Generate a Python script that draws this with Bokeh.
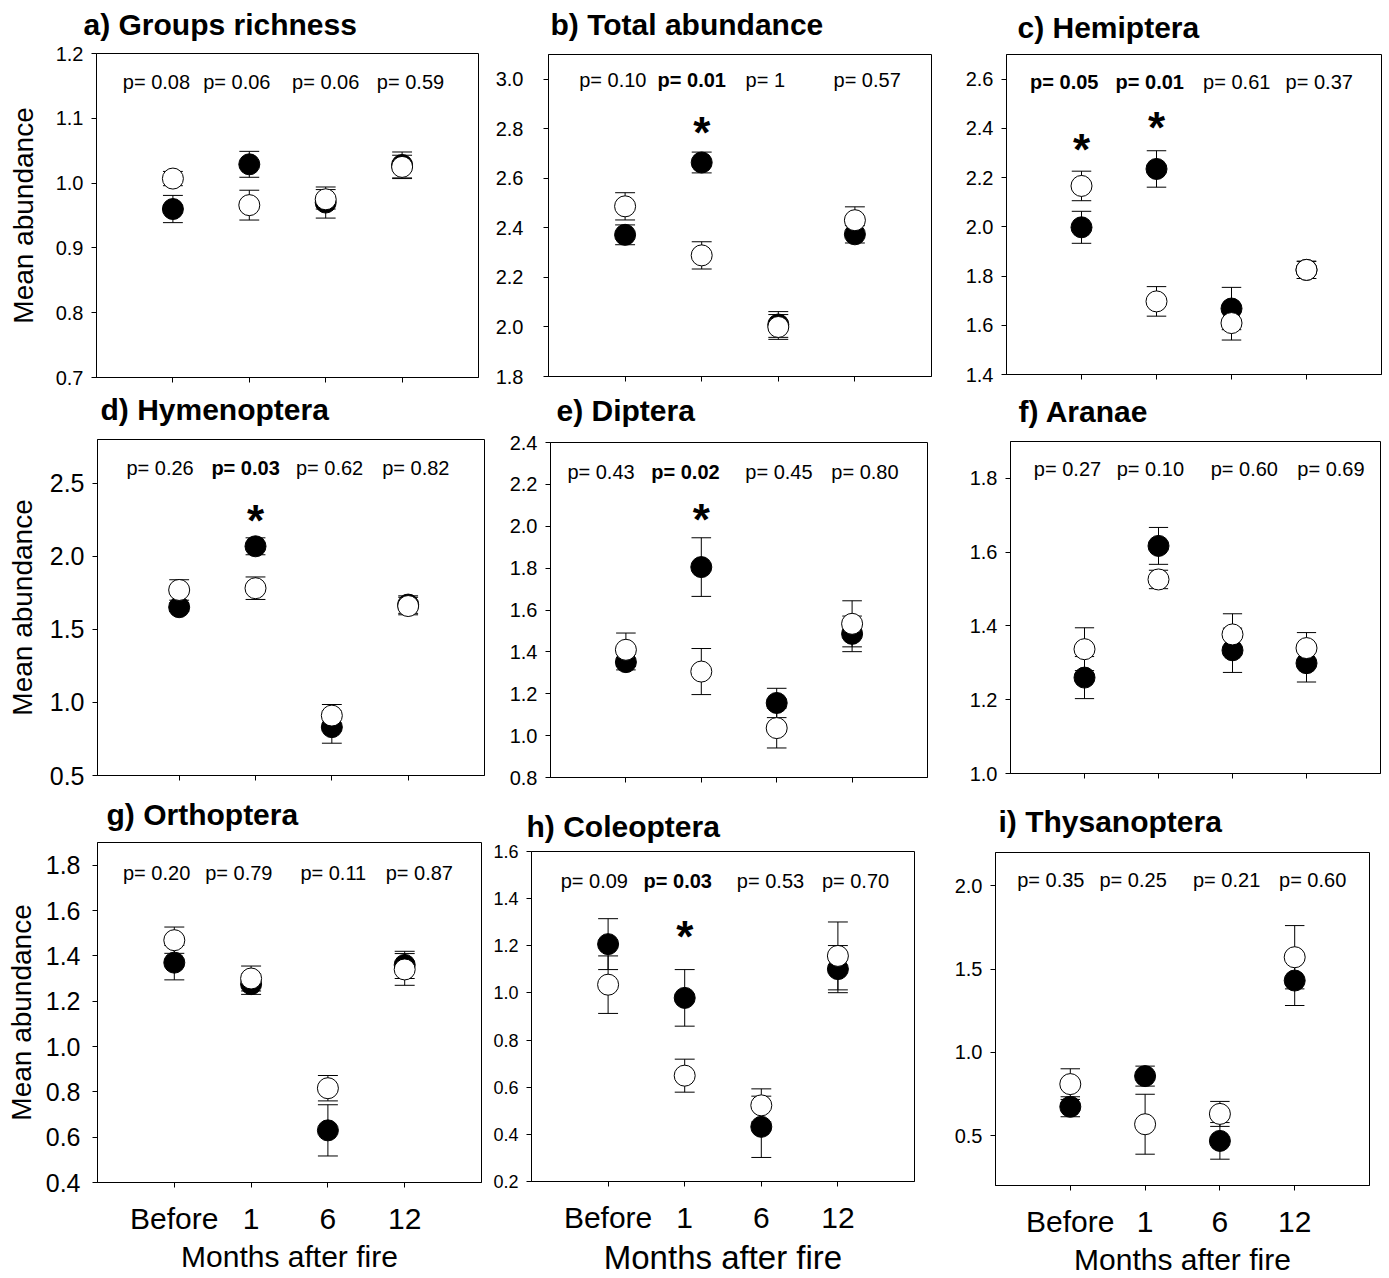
from bokeh.plotting import figure
from bokeh.layouts import row, column
from bokeh.models import FixedTicker, PrintfTickFormatter, Range1d
from bokeh.core.properties import value
from bokeh.embed import file_html
from bokeh.resources import INLINE

FONT = "Liberation Sans"

months = ["Before", "1", "6", "12"]
periods = [1, 2, 3, 4]

# ---- data (mean +/- SE), filled = black circles, open = white circles ----
richness_filled = [0.960, 1.029, 0.970, 1.028]
richness_filled_se = [0.021, 0.020, 0.024, 0.020]
richness_open = [1.007, 0.966, 0.975, 1.025]
richness_open_se = [0.011, 0.023, 0.015, 0.018]
richness_p = ["0.08", "0.06", "0.06", "0.59"]
richness_sig = [False, False, False, False]

total_filled = [2.372, 2.664, 2.010, 2.374]
total_filled_se = [0.040, 0.042, 0.052, 0.035]
total_open = [2.487, 2.289, 2.000, 2.431]
total_open_se = [0.055, 0.055, 0.050, 0.054]
total_p = ["0.10", "0.01", "1", "0.57"]
total_sig = [False, True, False, False]

hemi_filled = [1.998, 2.235, 1.668, 1.825]
hemi_filled_se = [0.065, 0.074, 0.086, 0.035]
hemi_open = [2.166, 1.697, 1.609, 1.825]
hemi_open_se = [0.060, 0.060, 0.069, 0.035]
hemi_p = ["0.05", "0.01", "0.61", "0.37"]
hemi_sig = [True, True, False, False]

hyme_filled = [1.652, 2.069, 0.831, 1.670]
hyme_filled_se = [0.030, 0.058, 0.110, 0.060]
hyme_open = [1.770, 1.782, 0.910, 1.660]
hyme_open_se = [0.070, 0.077, 0.076, 0.060]
hyme_p = ["0.26", "0.03", "0.62", "0.82"]
hyme_sig = [False, True, False, False]

dipt_filled = [1.351, 1.805, 1.156, 1.486]
dipt_filled_se = [0.037, 0.140, 0.070, 0.085]
dipt_open = [1.410, 1.306, 1.036, 1.534]
dipt_open_se = [0.080, 0.110, 0.095, 0.110]
dipt_p = ["0.43", "0.02", "0.45", "0.80"]
dipt_sig = [False, True, False, False]

aran_filled = [1.260, 1.617, 1.334, 1.299]
aran_filled_se = [0.057, 0.050, 0.060, 0.051]
aran_open = [1.337, 1.526, 1.377, 1.340]
aran_open_se = [0.058, 0.025, 0.056, 0.042]
aran_p = ["0.27", "0.10", "0.60", "0.69"]
aran_sig = [False, False, False, False]

orth_filled = [1.370, 1.275, 0.630, 1.360]
orth_filled_se = [0.076, 0.045, 0.113, 0.060]
orth_open = [1.469, 1.300, 0.816, 1.340]
orth_open_se = [0.058, 0.055, 0.056, 0.070]
orth_p = ["0.20", "0.79", "0.11", "0.87"]
orth_sig = [False, False, False, False]

cole_filled = [1.207, 0.979, 0.432, 1.101]
cole_filled_se = [0.108, 0.120, 0.130, 0.100]
cole_open = [1.035, 0.649, 0.523, 1.157]
cole_open_se = [0.122, 0.070, 0.070, 0.144]
cole_p = ["0.09", "0.03", "0.53", "0.70"]
cole_sig = [False, True, False, False]

thys_filled = [0.673, 0.857, 0.468, 1.431]
thys_filled_se = [0.060, 0.060, 0.110, 0.150]
thys_open = [0.809, 0.568, 0.630, 1.571]
thys_open_se = [0.092, 0.180, 0.075, 0.190]
thys_p = ["0.35", "0.25", "0.21", "0.60"]
thys_sig = [False, False, False, False]


def make_panel(title, filled, filled_se, opn, opn_se, pvals, sig, lay):
    p = figure(width=lay["W"], height=lay["H"], output_backend="svg", toolbar_location=None,
               x_range=Range1d(*lay["xr"]), y_range=Range1d(*lay["yr"]),
               min_border_left=lay["L"], min_border_right=lay["R"],
               min_border_top=lay["T"], min_border_bottom=lay["B"])
    p.title.text = title
    p.title.text_font = FONT
    p.title.text_font_size = "30px"
    p.title.text_font_style = "bold"
    p.title.text_color = "black"
    p.title.align = "left"
    p.title.offset = lay["toff"]
    p.title.standoff = lay["tsd"]
    p.outline_line_color = "black"
    p.outline_line_width = 1
    p.outline_line_alpha = 1
    p.background_fill_color = "white"
    p.border_fill_color = None      # transparent borders: neighbouring rows may overlap a little
    p.grid.visible = False

    # y axis
    yax = p.yaxis[0]
    yax.ticker = FixedTicker(ticks=lay["yticks"])
    yax.formatter = PrintfTickFormatter(format="%.1f")
    yax.major_label_text_font = FONT
    yax.major_label_text_font_size = "%dpx" % lay["tfs"]
    yax.major_label_text_color = "black"
    yax.major_tick_out = 5
    yax.major_tick_in = 0
    yax.minor_tick_out = 0
    yax.minor_tick_in = 0
    yax.axis_line_color = "black"
    yax.major_tick_line_color = "black"
    yax.major_label_standoff = lay.get("ysd", 8)
    if lay.get("ylabel"):
        yax.axis_label = "Mean abundance"
        yax.axis_label_text_font = FONT
        yax.axis_label_text_font_size = "28px"
        yax.axis_label_text_font_style = "normal"
        yax.axis_label_text_color = "black"
        yax.axis_label_standoff = lay.get("ylsd", 12)

    # x axis
    xax = p.xaxis[0]
    xax.axis_line_color = "black"
    if lay.get("xlabels"):
        xax.ticker = FixedTicker(ticks=periods)
        xax.major_label_overrides = {k: m for k, m in zip(periods, months)}
        xax.major_tick_out = 5
        xax.major_tick_in = 0
        xax.minor_tick_out = 0
        xax.minor_tick_in = 0
        xax.major_tick_line_color = "black"
        xax.major_label_text_font = FONT
        xax.major_label_text_font_size = "30px"
        xax.major_label_text_color = "black"
        xax.major_label_standoff = lay.get("xsd", 14)
        xax.axis_label = "Months after fire"
        xax.axis_label_text_font = FONT
        xax.axis_label_text_font_size = "%dpx" % lay.get("xlfs", 30)
        xax.axis_label_text_font_style = "normal"
        xax.axis_label_text_color = "black"
        xax.axis_label_standoff = lay.get("xlsd", 2)
    else:
        # tick marks only (no labels): minor ticks at the periods
        xax.ticker = FixedTicker(ticks=[], minor_ticks=periods)
        xax.minor_tick_out = 5
        xax.minor_tick_in = 0
        xax.minor_tick_line_color = "black"
        xax.major_tick_out = 0
        xax.major_tick_in = 0
        xax.major_label_standoff = 0

    cw = 0.13
    for means, ses in ((filled, filled_se), (opn, opn_se)):
        lo = [m - s for m, s in zip(means, ses)]
        hi = [m + s for m, s in zip(means, ses)]
        p.segment(x0=periods, y0=lo, x1=periods, y1=hi, line_color="black", line_width=1)
        p.segment(x0=[x - cw for x in periods], y0=hi, x1=[x + cw for x in periods], y1=hi,
                  line_color="black", line_width=1)
        p.segment(x0=[x - cw for x in periods], y0=lo, x1=[x + cw for x in periods], y1=lo,
                  line_color="black", line_width=1)

    p.scatter(x=periods, y=filled, size=21, fill_color="black", line_color="black", line_width=1)
    p.scatter(x=periods, y=opn, size=21, fill_color="white", line_color="black", line_width=1)

    # p-values
    for bold in (False, True):
        xs = [x + d for x, d, s in zip(periods, lay["pdx"], sig) if s == bold]
        ts = ["p= " + v for v, s in zip(pvals, sig) if s == bold]
        if xs:
            p.text(x=xs, y=[lay["py"]] * len(xs), text=ts, text_font=value(FONT),
                   text_font_size="20px", text_font_style="bold" if bold else "normal",
                   text_align="center", text_baseline="middle", text_color="black")
    # significance stars
    sx = [x for x, s in zip(periods, sig) if s]
    if sx:
        p.text(x=sx, y=lay["stary"], text=["*"] * len(sx), text_font=value(FONT),
               text_font_size="44px", text_font_style="bold", text_align="center",
               text_baseline="middle", y_offset=6, text_color="black")
    return p


def ticks(a, b, step):
    n = int(round((b - a) / step))
    return [round(a + i * step, 2) for i in range(n + 1)]


# layout: columns 0-490 / 490-945 / 945-1389 ; rows -8-390 / 376-790 / 784-1278
# (rows overlap slightly; the overlapping border areas are transparent and empty)
OV1, OV2, OV3 = 8, 14, 6
lay_a = dict(W=490, H=390 + OV1, L=96, R=12, T=53 + OV1, B=13, xr=(0, 5), yr=(0.7, 1.2),
             yticks=ticks(0.7, 1.2, 0.1), tfs=20, ylabel=True, ylsd=14, toff=-13, tsd=25,
             pdx=[-0.215, -0.163, 0.0, 0.11], py=1.156)
lay_b = dict(W=455, H=390 + OV1, L=58, R=14, T=54 + OV1, B=14, xr=(0, 5), yr=(1.8, 3.1),
             yticks=ticks(1.8, 3.0, 0.2), tfs=20, ysd=20, toff=2, tsd=27,
             pdx=[-0.16, -0.13, -0.17, 0.16], py=2.997, stary=[2.81])
lay_c = dict(W=444, H=390 + OV1, L=61, R=8, T=54 + OV1, B=16, xr=(0, 5), yr=(1.4, 2.7),
             yticks=ticks(1.4, 2.6, 0.2), tfs=20, toff=11, tsd=21,
             pdx=[-0.23, -0.09, 0.07, 0.17], py=2.59, stary=[2.34, 2.428])
lay_d = dict(W=490, H=400 + OV2, L=97, R=6, T=49 + OV2, B=15, xr=(-0.07, 5), yr=(0.5, 2.8),
             yticks=ticks(0.5, 2.5, 0.5), tfs=25, ylabel=True, ylsd=9, toff=3, tsd=27,
             pdx=[-0.25, -0.13, -0.03, 0.1], py=2.607, stary=[2.29])
lay_e = dict(W=455, H=400 + OV2, L=60, R=18, T=52 + OV2, B=13, xr=(0, 5), yr=(0.8, 2.4),
             yticks=ticks(0.8, 2.4, 0.2), tfs=20, toff=6, tsd=31, pdx=[-0.33, -0.21, 0.03, 0.17],
             py=2.258, stary=[2.06])
lay_f = dict(W=444, H=400 + OV2, L=65, R=9, T=51 + OV2, B=17, xr=(0, 5), yr=(1.0, 1.9),
             yticks=ticks(1.0, 1.8, 0.2), tfs=20, toff=8, tsd=27, pdx=[-0.23, -0.11, 0.16, 0.33], py=1.826)
lay_g = dict(W=490, H=488 + OV3, L=97, R=9, T=52 + OV3, B=96, xr=(0, 5), yr=(0.4, 1.9),
             yticks=ticks(0.4, 1.8, 0.2), tfs=25, ysd=12, ylabel=True, ylsd=6, xlabels=True, toff=9, tsd=23,
             pdx=[-0.23, -0.16, 0.07, 0.19], py=1.766)
lay_h = dict(W=455, H=488 + OV3, L=38, R=31, T=61 + OV3, B=95, xr=(0, 5), yr=(0.2, 1.6),
             yticks=ticks(0.2, 1.6, 0.2), tfs=18, xlabels=True, xlfs=33, toff=-5, tsd=17,
             pdx=[-0.18, -0.09, 0.12, 0.23], py=1.475, stary=[1.266])
lay_i = dict(W=444, H=488 + OV3, L=50, R=20, T=62 + OV3, B=91, xr=(0, 5), yr=(0.2, 2.2),
             yticks=ticks(0.5, 2.0, 0.5), tfs=20, xlabels=True, toff=3, tsd=29,
             pdx=[-0.26, -0.16, 0.09, 0.24], py=2.034)

pa = make_panel("a) Groups richness", richness_filled, richness_filled_se, richness_open, richness_open_se,
                richness_p, richness_sig, lay_a)
pb = make_panel("b) Total abundance", total_filled, total_filled_se, total_open, total_open_se,
                total_p, total_sig, lay_b)
pc = make_panel("c) Hemiptera", hemi_filled, hemi_filled_se, hemi_open, hemi_open_se,
                hemi_p, hemi_sig, lay_c)
pd_ = make_panel("d) Hymenoptera", hyme_filled, hyme_filled_se, hyme_open, hyme_open_se,
                 hyme_p, hyme_sig, lay_d)
pe = make_panel("e) Diptera", dipt_filled, dipt_filled_se, dipt_open, dipt_open_se,
                dipt_p, dipt_sig, lay_e)
pf = make_panel("f) Aranae", aran_filled, aran_filled_se, aran_open, aran_open_se,
                aran_p, aran_sig, lay_f)
pg = make_panel("g) Orthoptera", orth_filled, orth_filled_se, orth_open, orth_open_se,
                orth_p, orth_sig, lay_g)
ph = make_panel("h) Coleoptera", cole_filled, cole_filled_se, cole_open, cole_open_se,
                cole_p, cole_sig, lay_h)
pi = make_panel("i) Thysanoptera", thys_filled, thys_filled_se, thys_open, thys_open_se,
                thys_p, thys_sig, lay_i)


def cell(fig):
    # wrap each panel on its own so that panels in a row keep their own frame positions
    return column(fig, spacing=0)


layout = column(row(cell(pa), cell(pb), cell(pc), spacing=0, margin=(-OV1, 0, 0, 0)),
                row(cell(pd_), cell(pe), cell(pf), spacing=0, margin=(-OV2, 0, 0, 0)),
                row(cell(pg), cell(ph), cell(pi), spacing=0, margin=(-OV3, 0, 0, 0)),
                spacing=0)

open("out.html", "w").write(file_html(layout, INLINE))
